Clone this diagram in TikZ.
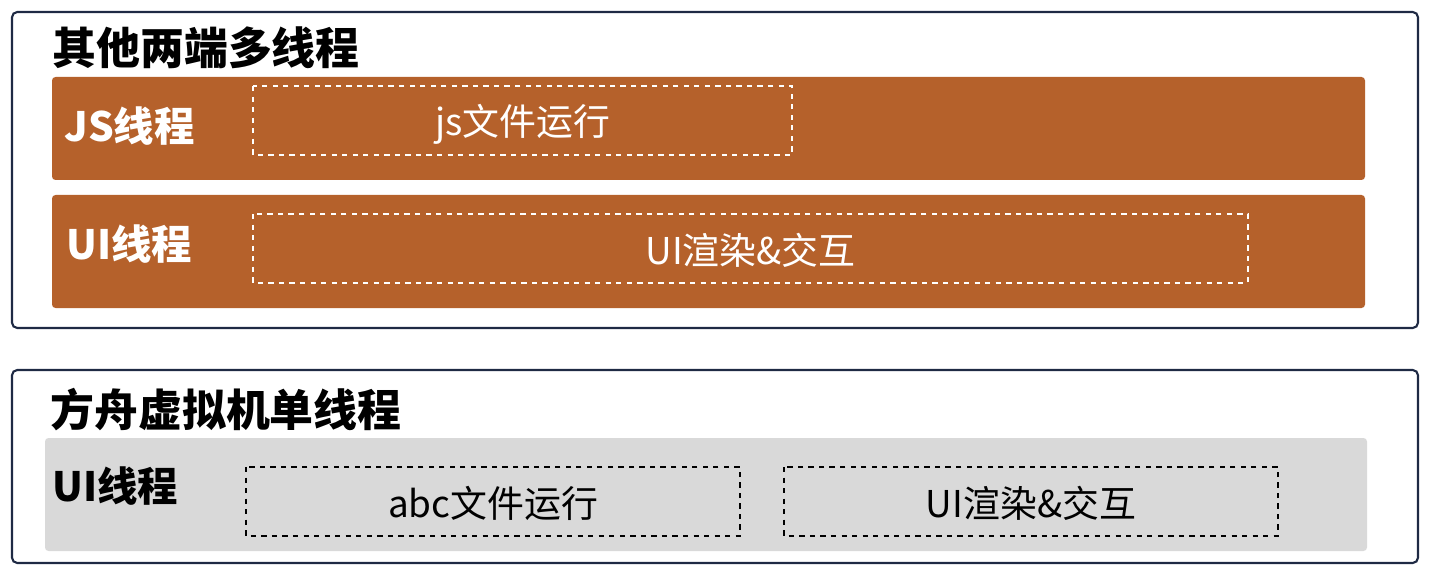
\documentclass[tikz,border=0pt]{standalone}
\usepackage{fontspec}
\setmainfont{Noto Sans CJK SC}
\usetikzlibrary{positioning}
\definecolor{rust}{HTML}{B5612B}
\definecolor{frame}{HTML}{1F2A44}
\definecolor{pale}{HTML}{D9D9D9}
\tikzset{
    x=0.02cm, y=-0.02cm,
    group/.style ={draw=frame, line width=1.2pt, rounded corners=3pt},
    bar/.style = {rounded corners=2pt},
    task/.style = {dashed, line width=0.8pt},
    title/.style = {anchor=west, inner sep=0pt, font=\fontsize{25}{28}\selectfont\bfseries},
    lab/.style = {anchor=west, inner sep=0pt, font=\fontsize{23}{26}\selectfont\bfseries},
    el/.style = {inner sep=0pt, font=\fontsize{21}{24}\selectfont}
}
\begin{document}
\begin{tikzpicture}
    \useasboundingbox (0,0) rectangle (1440,584);
    % upper frame
    \draw[group] (12,12) rectangle (1418,328);
    \node[title] (t1) at (52,48) {其他两端多线程};
    \fill[bar, rust] (52,77) rectangle (1365,180);
    \fill[bar, rust] (52,195) rectangle (1365,308);
    \node[lab, white] (js) at (64,126) {JS线程};
    \node[lab, white] (ui) at (66,244) {UI线程};
    \draw[task, white] (253,86) rectangle (792,155);
    \node[el, white] (jsrun) at (522.5,124) {js文件运行};
    \draw[task, white] (253,214) rectangle (1248,283);
    \node[el, white] (uirun) at (750.5,250) {UI渲染\&交互};
    % lower frame
    \draw[group] (12,370) rectangle (1418,563);
    \node[title] (t2) at (50,410) {方舟虚拟机单线程};
    \fill[bar, pale] (45,438) rectangle (1367,551);
    \node[lab] (ui2) at (52,486) {UI线程};
    \draw[task] (246,467) rectangle (740,536);
    \node[el] (abc) at (493,503) {abc文件运行};
    \draw[task] (784,467) rectangle (1278,536);
    \node[el] (ui3) at (1031,503) {UI渲染\&交互};
\end{tikzpicture}
\end{document}
